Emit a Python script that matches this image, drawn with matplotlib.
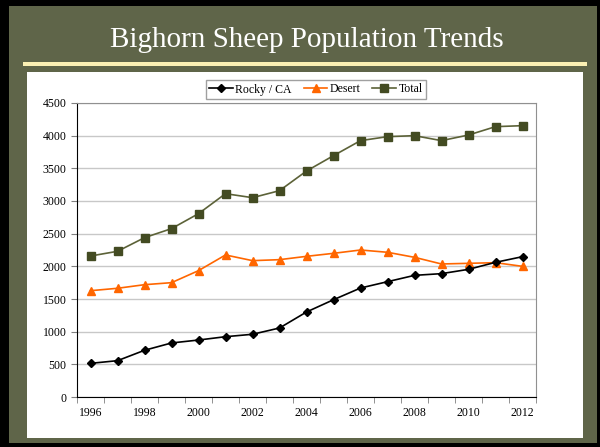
import matplotlib.pyplot as plt
from matplotlib.patches import Rectangle

# data
years = list(range(1996, 2013))
rocky_ca = [515, 556, 715, 827, 872, 923, 960, 1056, 1301, 1489, 1668, 1765,
            1862, 1888, 1954, 2061, 2148]
desert = [1627, 1664, 1719, 1750, 1934, 2174, 2087, 2102, 2153, 2199, 2250, 2215,
          2138, 2036, 2046, 2056, 2000]
total = [2158, 2230, 2439, 2577, 2806, 3112, 3051, 3158, 3459, 3694, 3924, 3985,
         4000, 3924, 4010, 4138, 4153]

W, H = 600, 447
plt.rcParams['font.family'] = ['Liberation Serif', 'DejaVu Serif']

fig = plt.figure(figsize=(W / 100, H / 100), dpi=100)
fig.patch.set_facecolor('black')


def box(x0, y0, x1, y1, color):
    # pixel coords, origin top-left
    fig.add_artist(Rectangle((x0 / W, 1 - y1 / H), (x1 - x0) / W, (y1 - y0) / H,
                             transform=fig.transFigure, facecolor=color,
                             edgecolor='none', zorder=0))


box(9, 6, 597, 443, '#5f6549')      # green slide
box(23, 62, 587, 66, '#fbf0b4')     # yellow rule
box(27, 72, 583, 438, 'white')      # chart area

fig.text(307 / W, 1 - 40 / H, 'Bighorn Sheep Population Trends', color='white',
         fontsize=21, ha='center', va='center')

ax = fig.add_axes([77 / W, 1 - 397 / H, (536 - 77) / W, (397 - 103) / H])
x = list(range(len(years)))

ax.plot(x, rocky_ca, color='black', lw=1.2, marker='D', ms=4.5, label='Rocky / CA', zorder=4)
ax.plot(x, desert, color='#ff6600', lw=1.2, marker='^', ms=6, label='Desert', zorder=3)
ax.plot(x, total, color='#5c6238', lw=1.2, marker='s', ms=5.5, mfc='#434b22',
        mec='#434b22', label='Total', zorder=3)

ax.set_xlim(-0.5, len(years) - 0.5)
ax.set_ylim(0, 4500)
ax.set_yticks(range(0, 4501, 500))
ax.yaxis.grid(True, color='#c8c8c8', lw=1)
ax.set_axisbelow(True)

ax.set_xticks(x[::2])
ax.set_xticklabels([str(y) for y in years[::2]])
ax.set_xticks([i - 0.5 for i in range(len(years) + 1)], minor=True)
ax.tick_params(axis='x', which='major', length=0, pad=7, labelsize=8.5)
ax.tick_params(axis='x', which='minor', length=4, color='#808080')
ax.tick_params(axis='y', length=4, color='#808080', labelsize=8.5)

for s in ['top', 'right']:
    ax.spines[s].set_color('#909090')
for s in ['left', 'bottom']:
    ax.spines[s].set_color('black')

fig.legend(loc='center', bbox_to_anchor=(316 / W, 1 - 89.5 / H), ncol=3,
           fontsize=8.5, frameon=True, fancybox=False, edgecolor='#a0a0a0',
           borderpad=0.3, handlelength=2.0, handletextpad=0.2, columnspacing=1.0,
           framealpha=1)

fig.savefig('out.png', dpi=100, facecolor=fig.get_facecolor())
